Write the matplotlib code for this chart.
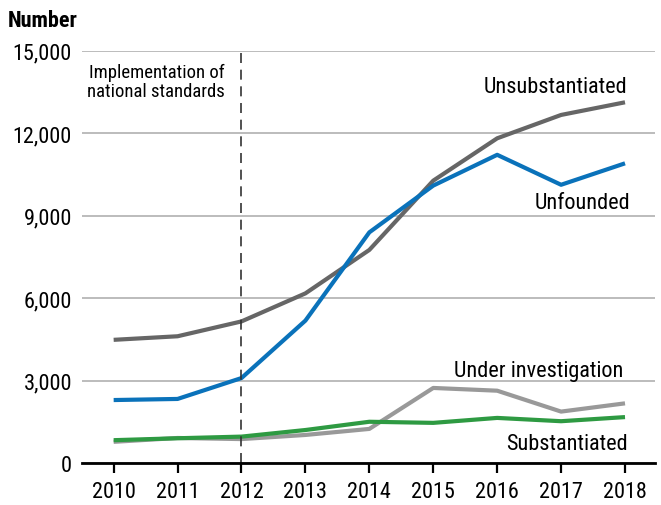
import matplotlib
matplotlib.use("Agg")
import matplotlib.pyplot as plt
from matplotlib import font_manager

# Prefer a narrow font if one is present
names = {f.name for f in font_manager.fontManager.ttflist}
narrow = [n for n in ["Roboto Condensed", "Liberation Sans Narrow", "DejaVu Sans Condensed"] if n in names]
plt.rcParams["font.family"] = narrow + ["Liberation Sans", "DejaVu Sans"]

years = [2010, 2011, 2012, 2013, 2014, 2015, 2016, 2017, 2018]
unsubstantiated = [4480, 4610, 5150, 6170, 7750, 10270, 11810, 12660, 13120]
unfounded = [2290, 2330, 3090, 5180, 8390, 10090, 11210, 10120, 10900]
under_investigation = [770, 910, 870, 1020, 1240, 2730, 2630, 1870, 2170]
substantiated = [830, 900, 960, 1200, 1500, 1460, 1640, 1520, 1670]
yticks = [0, 3000, 6000, 9000, 12000, 15000]

fig = plt.figure(figsize=(6.61, 5.06), dpi=100)
ax = fig.add_axes([0.1236, 0.083, 0.8674, 0.815])

ax.plot(years, under_investigation, color="#999999", lw=3, solid_capstyle="butt", zorder=3)
ax.plot(years, substantiated, color="#2e9a42", lw=3, solid_capstyle="butt", zorder=4)
ax.plot(years, unsubstantiated, color="#666666", lw=3, solid_capstyle="butt", zorder=3)
ax.plot(years, unfounded, color="#0a72ba", lw=3, solid_capstyle="butt", zorder=4)

# policy marker
ax.axvline(2012, color="#333333", lw=1.2, ls=(0, (6, 4)), zorder=5)

ax.set_xlim(2009.5, 2018.47)
ax.set_ylim(0, 15000)
ax.set_xticks(years)
ax.set_yticks(yticks)
ax.set_yticklabels([f"{v:,}" for v in yticks])
ax.grid(axis="y", color="#b0b0b0", lw=1.2)
ax.set_axisbelow(True)

for s in ["top", "right", "left"]:
    ax.spines[s].set_visible(False)
ax.spines["bottom"].set_linewidth(2)
ax.spines["bottom"].set_zorder(6)
ax.tick_params(axis="y", length=0, pad=7, labelsize=16)
ax.tick_params(axis="x", length=7, width=1.6, pad=6, labelsize=16, direction="out")

ax.text(2011.74, 14550, "Implementation of\nnational standards", ha="right", va="top",
        fontsize=13.5, linespacing=1.05)
ax.text(2018.03, 13510, "Unsubstantiated", ha="right", va="baseline", fontsize=16)
ax.text(2018.08, 9270, "Unfounded", ha="right", va="baseline", fontsize=16)
ax.text(2017.97, 3150, "Under investigation", ha="right", va="baseline", fontsize=16)
ax.text(2018.05, 510, "Substantiated", ha="right", va="baseline", fontsize=16)

fig.text(8 / 661, 1 - 27 / 506, "Number", fontsize=16, fontweight="bold", ha="left", va="baseline")

fig.savefig("out.png", dpi=100)
